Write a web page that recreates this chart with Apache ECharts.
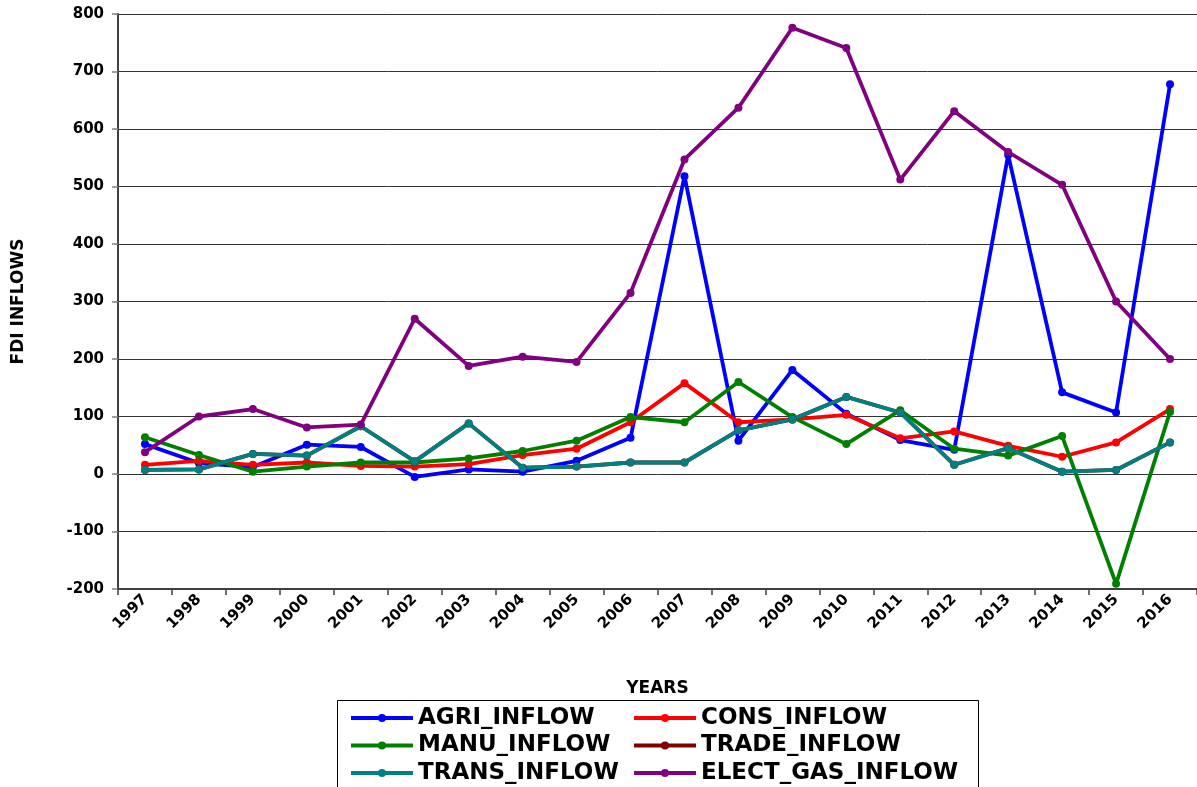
<!DOCTYPE html>
<html>
<head>
<meta charset="utf-8">
<script src="https://cdn.jsdelivr.net/npm/echarts@6/dist/echarts.min.js"></script>
<style>
html,body{margin:0;padding:0;background:#fff;}
#chart{width:1197px;height:787px;}
</style>
</head>
<body>
<div id="chart"></div>
<script>
var years = ['1997','1998','1999','2000','2001','2002','2003','2004','2005','2006','2007','2008','2009','2010','2011','2012','2013','2014','2015','2016'];
var agriInflow  = [52, 19, 12, 51, 47, -5, 8, 4, 23, 63, 518, 58, 181, 105, 59, 42, 555, 142, 107, 678];
var consInflow  = [16, 23, 16, 20, 14, 13, 17, 33, 44, 90, 158, 90, 95, 103, 62, 74, 49, 30, 55, 113];
var manuInflow  = [64, 33, 4, 13, 20, 20, 27, 40, 58, 99, 90, 160, 99, 52, 111, 44, 32, 66, -191, 108];
var tradeInflow = [7, 8, 35, 32, 83, 22, 88, 11, 13, 20, 20, 76, 95, 134, 107, 16, 45, 4, 7, 55];
var transInflow = [7, 8, 35, 32, 83, 22, 88, 11, 13, 20, 20, 76, 95, 134, 107, 16, 45, 4, 7, 55];
var electGasInflow = [38, 100, 113, 81, 86, 270, 188, 204, 195, 315, 547, 637, 776, 741, 512, 631, 560, 503, 300, 200];

var seriesNames = ['AGRI_INFLOW','CONS_INFLOW','MANU_INFLOW','TRADE_INFLOW','TRANS_INFLOW','ELECT_GAS_INFLOW'];
var seriesColors = ['#0000ff','#ff0000','#008000','#800000','#008080','#800080'];
var seriesData = [agriInflow, consInflow, manuInflow, tradeInflow, transInflow, electGasInflow];

var FONT = 'DejaVu Sans';
var chart = echarts.init(document.getElementById('chart'));

var series = seriesNames.map(function(n, i){
  return {
    name: n,
    type: 'line',
    data: seriesData[i],
    symbol: 'circle',
    symbolSize: 8,
    showAllSymbol: true,
    color: seriesColors[i],
    lineStyle: {width: 3.8, color: seriesColors[i]},
    itemStyle: {color: seriesColors[i]}
  };
});

var legendText = {fontFamily: FONT, fontWeight: 'bold', fontSize: 23, color: '#000', lineHeight: 24};

chart.setOption({
  animation: false,
  backgroundColor: '#fff',
  grid: {left: 118, top: 14, right: 0, bottom: 198, containLabel: false, outerBoundsMode: 'none'},
  legend: [
    {orient: 'vertical', left: 349, top: 706, width: 280, height: 120, itemWidth: 62, itemHeight: 10, itemGap: 3.5, padding: 0,
     lineStyle: {width: 4}, data: ['AGRI_INFLOW','MANU_INFLOW','TRANS_INFLOW'], textStyle: legendText, selectedMode: false},
    {orient: 'vertical', left: 632, top: 706, width: 340, height: 120, itemWidth: 62, itemHeight: 10, itemGap: 3.5, padding: 0,
     lineStyle: {width: 4}, data: ['CONS_INFLOW','TRADE_INFLOW','ELECT_GAS_INFLOW'], textStyle: legendText, selectedMode: false}
  ],
  graphic: [
    {type: 'rect', shape: {x: 337.5, y: 700.5, width: 641, height: 100}, style: {fill: 'none', stroke: '#000', lineWidth: 1}, z: 100}
  ],
  xAxis: {
    type: 'category',
    data: years,
    boundaryGap: true,
    name: 'YEARS',
    nameLocation: 'middle',
    nameGap: 91,
    nameTextStyle: {fontFamily: FONT, fontWeight: 'bold', fontSize: 17, color: '#000'},
    axisLine: {onZero: false, lineStyle: {color: '#404040', width: 2}},
    axisTick: {show: true, length: 6, lineStyle: {color: '#404040', width: 1.5}},
    axisLabel: {rotate: 45, interval: 0, margin: 8, fontFamily: FONT, fontWeight: 'bold', fontSize: 15, color: '#000'},
    splitLine: {show: false}
  },
  yAxis: {
    type: 'value',
    min: -200,
    max: 800,
    interval: 100,
    name: 'FDI INFLOWS',
    nameLocation: 'middle',
    nameGap: 91,
    nameTextStyle: {fontFamily: FONT, fontWeight: 'bold', fontSize: 17, color: '#000'},
    axisLine: {show: true, lineStyle: {color: '#404040', width: 2}},
    axisTick: {show: true, length: 6, lineStyle: {color: '#808080', width: 1.5}},
    axisLabel: {margin: 14, fontFamily: FONT, fontWeight: 'bold', fontSize: 15, color: '#000'},
    splitLine: {show: true, lineStyle: {color: '#333', width: 1}}
  },
  series: series
});
</script>
</body>
</html>
